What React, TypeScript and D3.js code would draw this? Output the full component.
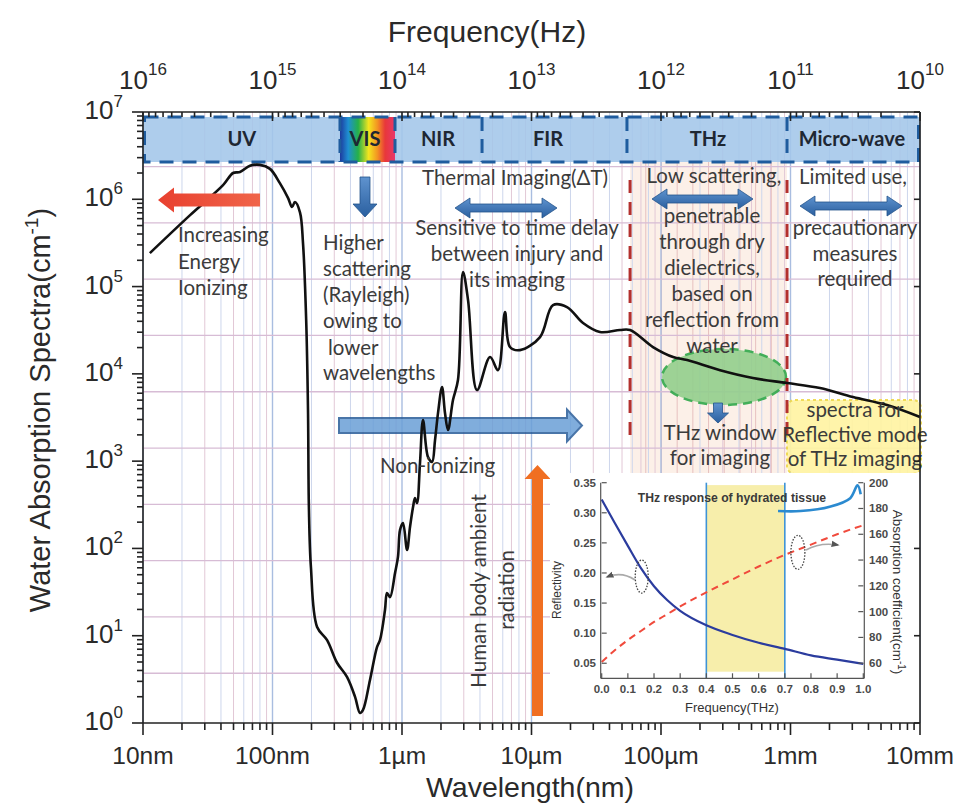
import React from "react";
import * as d3 from "d3";

// water absorption spectrum (wavelength in nm, absorption in cm^-1)
const wavelengthNm = [11.3, 23.1, 41.5, 49.6, 56.1, 67, 80, 95.6, 114, 132, 141.5, 149, 163, 172, 182, 188, 191, 198, 221, 264, 315, 376, 434, 474, 500, 566, 641, 676, 739, 766, 808, 883, 931, 966, 1018, 1094, 1153, 1217, 1260, 1306, 1377, 1453, 1588, 1706, 1799, 1897, 2037, 2148, 2266, 2476, 2705, 2959, 3236, 3795, 4786, 5510, 6240, 6820, 8150, 11640, 14660, 18800, 25000, 33800, 48200, 57700, 86700, 124000, 159000, 286000, 513000, 940000, 1690000, 3040000, 5560000, 1e7];
const absorption = [2.42e5, 6.59e5, 1.45e6, 2.0e6, 2.05e6, 2.42e6, 2.48e6, 2.23e6, 1.53e6, 1.03e6, 8.15e5, 9.3e5, 7.1e5, 3.15e5, 4.13e4, 3850, 298, 61, 12.6, 8.9, 4.9, 3.37, 1.99, 1.3, 1.41, 3.11, 7.4, 8.9, 19.7, 30.8, 27.7, 52, 80, 163, 195, 96, 176, 298, 378, 331, 951, 2960, 1114, 977, 1745, 3556, 7060, 3556, 2270, 5010, 8490, 1.47e5, 7.0e4, 6520, 1.56e4, 1.1e4, 5.1e4, 2.03e4, 1.87e4, 2.64e4, 6.14e4, 5.82e4, 3.82e4, 3.01e4, 3.18e4, 3.18e4, 2.03e4, 1.56e4, 1.44e4, 1.1e4, 8950, 7850, 6870, 5420, 4390, 3200];

// axis ticks
const wavelengthTicks = [10, 100, 1e3, 1e4, 1e5, 1e6, 1e7];
const wavelengthLabels = ["10nm", "100nm", "1µm", "10µm", "100µm", "1mm", "10mm"];
const freqTicks = [1e16, 1e15, 1e14, 1e13, 1e12, 1e11, 1e10];
const freqExponents = ["16", "15", "14", "13", "12", "11", "10"];
const absTicks = [1, 10, 100, 1e3, 1e4, 1e5, 1e6, 1e7];
const absExponents = ["0", "1", "2", "3", "4", "5", "6", "7"];

// spectral bands along the top
const bandNames = ["UV", "VIS", "NIR", "FIR", "THz", "Micro-wave"];
const bandEdges = [10, 332, 883, 4150, 54600, 940000, 1e7];
const bandLabelAt = [58, 518, 1897, 13400, 230700, 2.98e6];
const thzWindowEdges = [57700, 940000];

// inset: THz response of hydrated tissue
const thzFreq = [0, 0.05, 0.1, 0.15, 0.2, 0.25, 0.3, 0.4, 0.5, 0.6, 0.7, 0.8, 0.9, 1.0];
const reflectivity = [0.322, 0.283, 0.245, 0.208, 0.178, 0.155, 0.137, 0.113, 0.097, 0.084, 0.074, 0.063, 0.056, 0.049];
const absCoef = [61, 70, 78, 85, 92, 98, 104, 115, 125, 135, 144, 152, 160, 167];
const insetFreqTicks = [0, 0.1, 0.2, 0.3, 0.4, 0.5, 0.6, 0.7, 0.8, 0.9, 1.0];
const insetReflTicks = [0.05, 0.1, 0.15, 0.2, 0.25, 0.3, 0.35];
const insetAbsTicks = [60, 80, 100, 120, 140, 160, 180, 200];
const windowBand = [0.4, 0.7];
const hookF = [0.674, 0.76, 0.875, 0.95, 0.978, 0.99];
const hookA = [178, 178, 181.5, 188, 198, 191];

const W = 963;
const H = 803;
const L = 143, R = 920, T = 112, B = 723;

const x = d3.scaleLog().domain([10, 1e7]).range([L, R]);
const y = d3.scaleLog().domain([1, 1e7]).range([B, T]);
const xf = d3.scaleLog().domain([1e16, 1e10]).range([L, R]);

const fx = d3.scaleLinear().domain([0, 1]).range([601.7, 863.3]);
const ry = d3.scaleLinear().domain([0.025, 0.35]).range([678.3, 482.7]);
const ay = d3.scaleLinear().domain([48.3, 200]).range([678.3, 482.7]);

const TXT = "#3b3b3b";
const ANN = "Lato, 'Open Sans', sans-serif";
const ARIAL = "'Liberation Sans', Arial, sans-serif";

function hArrow(tail: number, tip: number, cy: number, shaft: number, head: number, len: number) {
  const b = tip > tail ? tip - len : tip + len;
  return `M${tail},${cy - shaft / 2}L${b},${cy - shaft / 2}L${b},${cy - head / 2}L${tip},${cy}L${b},${cy + head / 2}L${b},${cy + shaft / 2}L${tail},${cy + shaft / 2}Z`;
}
function dArrow(x1: number, x2: number, cy: number, shaft: number, head: number, len: number) {
  const a = x1 + len, b = x2 - len;
  return `M${x1},${cy}L${a},${cy - head / 2}L${a},${cy - shaft / 2}L${b},${cy - shaft / 2}L${b},${cy - head / 2}L${x2},${cy}L${b},${cy + head / 2}L${b},${cy + shaft / 2}L${a},${cy + shaft / 2}L${a},${cy + head / 2}Z`;
}
function vArrow(cx: number, tail: number, tip: number, shaft: number, head: number, len: number) {
  const b = tip > tail ? tip - len : tip + len;
  return `M${cx - shaft / 2},${tail}L${cx - shaft / 2},${b}L${cx - head / 2},${b}L${cx},${tip}L${cx + head / 2},${b}L${cx + shaft / 2},${b}L${cx + shaft / 2},${tail}Z`;
}

function Lines({ lines, x0, y0, dy, anchor = "middle" }: { lines: string[]; x0: number; y0: number; dy: number; anchor?: string }) {
  return (
    <text fontFamily={ANN} fontSize={20.5} fill={TXT} textAnchor={anchor}>
      {lines.map((s, i) => (
        <tspan key={i} x={x0} y={y0 + i * dy}>{s}</tspan>
      ))}
    </text>
  );
}

export default function App() {
  const pts = wavelengthNm.map((w, i) => [w, absorption[i]] as [number, number]);
  const curve = d3
    .line<[number, number]>()
    .x(d => x(d[0]))
    .y(d => y(d[1]))
    .curve(d3.curveCatmullRom.alpha(0.5))(pts);

  // minor log grid positions
  const minors: { v: number; m: number }[] = [];
  for (let e = 1; e < 7; e++) for (let m = 1; m <= 9; m++) minors.push({ v: m * Math.pow(10, e), m });
  minors.push({ v: 1e7, m: 1 });
  const hGrid = d3.range(0.57, 7, 0.645).map(v => Math.pow(10, v));
  const thzX0 = x(thzWindowEdges[0]);
  const thzX1 = x(thzWindowEdges[1]);
  const thzLines = d3.range(1, 10).map(i => thzX0 + ((thzX1 - thzX0) * i) / 10);

  const freqMinor: number[] = [];
  for (let e = 10; e < 16; e++) for (let m = 2; m <= 9; m++) freqMinor.push(m * Math.pow(10, e));
  const absMinor: number[] = [];
  for (let e = 0; e < 7; e++) for (let m = 2; m <= 9; m++) absMinor.push(m * Math.pow(10, e));

  const reflLine = d3.line<number>().x((d, i) => fx(thzFreq[i])).y(d => ry(d)).curve(d3.curveMonotoneX)(reflectivity);
  const absLine = d3.line<number>().x((d, i) => fx(thzFreq[i])).y(d => ay(d)).curve(d3.curveMonotoneX)(absCoef);
  const hookLine = d3.line<number>().x(d => fx(d)).y((d, i) => ay(hookA[i])).curve(d3.curveCatmullRom)(hookF);

  const bandTop = 117, bandBot = 162;

  return (
    <svg width={W} height={H} style={{ position: "absolute", left: 0, top: 0, background: "#fff" }}>
      <defs>
        <linearGradient id="vis" x1="0" x2="1" y1="0" y2="0">
          <stop offset="0" stopColor="#1d3a9e" />
          <stop offset="0.15" stopColor="#1f8fd2" />
          <stop offset="0.33" stopColor="#25b04a" />
          <stop offset="0.52" stopColor="#f3e51f" />
          <stop offset="0.68" stopColor="#f39422" />
          <stop offset="0.82" stopColor="#e8383a" />
          <stop offset="1" stopColor="#e8366a" />
        </linearGradient>
        <linearGradient id="blueArr" x1="0" x2="0" y1="0" y2="1">
          <stop offset="0" stopColor="#5f93cf" />
          <stop offset="1" stopColor="#2a5f9f" />
        </linearGradient>
        <linearGradient id="redArr" x1="0" x2="1" y1="0" y2="0">
          <stop offset="0" stopColor="#e8402f" />
          <stop offset="1" stopColor="#f0654a" />
        </linearGradient>
        <marker id="grayHead" viewBox="0 0 10 10" refX="8" refY="5" markerWidth="5" markerHeight="5" orient="auto">
          <path d="M0,1L10,5L0,9Z" fill="#555" />
        </marker>
      </defs>

      {/* THz window background */}
      <rect x={thzX0} y={bandBot} width={thzX1 - thzX0} height={473 - bandBot} fill="#fcf0e8" />
      {thzLines.map((px, i) => (
        <line key={"tl" + i} x1={px} x2={px} y1={bandBot} y2={473} stroke="#e7c0bf" strokeWidth={1} />
      ))}

      {/* grid */}
      {minors.map(({ v, m }, i) => (
        <line
          key={"vg" + i}
          x1={x(v)}
          x2={x(v)}
          y1={T}
          y2={B}
          stroke={m === 1 ? "#a9bde0" : m % 2 ? "#e2c8d6" : "#cdd6ec"}
          strokeWidth={m === 1 ? 1.4 : 1}
        />
      ))}
      {hGrid.map((v, i) => (
        <line key={"hg" + i} x1={L} x2={R} y1={y(v)} y2={y(v)} stroke="#d7bcd5" strokeWidth={1.3} />
      ))}

      {/* band strip */}
      <rect x={x(bandEdges[0])} y={bandTop} width={x(bandEdges[6]) - x(bandEdges[0])} height={bandBot - bandTop} fill="#a3c6e9" opacity={0.88} />
      <rect x={x(bandEdges[1])} y={bandTop} width={x(bandEdges[2]) - x(bandEdges[1])} height={bandBot - bandTop} fill="url(#vis)" />
      <rect
        x={x(bandEdges[0]) + 1.5}
        y={bandTop}
        width={x(bandEdges[6]) - x(bandEdges[0]) - 3}
        height={bandBot - bandTop}
        fill="none"
        stroke="#1f5c9e"
        strokeWidth={3}
        strokeDasharray="14,9"
      />
      {bandEdges.slice(1, 6).map((b, i) => (
        <line key={"bd" + i} x1={x(b)} x2={x(b)} y1={bandTop} y2={bandBot} stroke="#1f5c9e" strokeWidth={3} strokeDasharray="14,8" />
      ))}
      {bandNames.map((n, i) => (
        <text key={n} x={x(bandLabelAt[i])} y={146} textAnchor="middle" fontFamily={ANN} fontWeight="bold" fontSize={20} fill="#1e2733">
          {n}
        </text>
      ))}

      {/* highlighted regions */}
      <ellipse cx={724} cy={377} rx={62} ry={28} fill="#93cf8d" opacity={0.9} stroke="#2fa84a" strokeWidth={2.5} strokeDasharray="9,6" />
      <rect x={787} y={400} width={134} height={74} rx={8} fill="#fff4a3" opacity={0.92} stroke="#efd84a" strokeWidth={2} strokeDasharray="3,3" />
      {thzWindowEdges.map((w, i) => (
        <line key={"rd" + i} x1={x(w)} x2={x(w)} y1={180} y2={443} stroke="#b3302e" strokeWidth={3} strokeDasharray="13,9" />
      ))}

      {/* non-ionizing arrow */}
      <path d={hArrow(339, 582, 425.5, 15, 32, 15)} fill="#6a9fd7" stroke="#2a5d9a" strokeWidth={2} opacity={0.85} />

      {/* spectrum */}
      <path d={curve || ""} fill="none" stroke="#111" strokeWidth={2.6} strokeLinejoin="round" />

      {/* arrows */}
      <path d={hArrow(260, 158, 200, 13, 25, 16)} fill="url(#redArr)" />
      <path d={vArrow(365, 177, 217, 10, 24, 13)} fill="url(#blueArr)" stroke="#24548c" strokeWidth={0.8} />
      <path d={dArrow(455, 557, 208, 8, 20, 15)} fill="url(#blueArr)" stroke="#24548c" strokeWidth={0.8} />
      <path d={dArrow(652, 753, 199, 8, 20, 15)} fill="url(#blueArr)" stroke="#24548c" strokeWidth={0.8} />
      <path d={dArrow(800, 902, 206, 8, 20, 15)} fill="url(#blueArr)" stroke="#24548c" strokeWidth={0.8} />
      <path d={vArrow(718, 403, 423, 9, 21, 10)} fill="url(#blueArr)" stroke="#24548c" strokeWidth={0.8} />
      <path d={vArrow(537.5, 716, 465, 11, 26, 14)} fill="#f06f22" />

      {/* annotations */}
      <Lines lines={["Increasing", "Energy", "Ionizing"]} x0={178} y0={242} dy={26.5} anchor="start" />
      <Lines lines={["Higher", "scattering", "(Rayleigh)", "owing to"]} x0={323} y0={250} dy={26} anchor="start" />
      <Lines lines={["lower"]} x0={328} y0={355} dy={26} anchor="start" />
      <Lines lines={["wavelengths"]} x0={323} y0={380} dy={26} anchor="start" />
      <Lines lines={["Thermal Imaging(ΔT)"]} x0={515} y0={185} dy={26} />
      <Lines lines={["Sensitive to time delay", "between injury and", "its imaging"]} x0={517} y0={235} dy={26} />
      <Lines lines={["Low scattering,"]} x0={714} y0={183} dy={26} />
      <Lines lines={["penetrable", "through dry", "dielectrics,", "based on", "reflection from", "water"]} x0={712} y0={223} dy={26} />
      <Lines lines={["Limited use,"]} x0={853} y0={184} dy={26} />
      <Lines lines={["precautionary", "measures", "required"]} x0={855} y0={235} dy={25.5} />
      <Lines lines={["THz window", "for imaging"]} x0={720} y0={440} dy={25} />
      <Lines lines={["spectra for", "Reflective mode", "of THz imaging"]} x0={855} y0={417} dy={24.5} />
      <Lines lines={["Non-ionizing"]} x0={380} y0={473} dy={26} anchor="start" />
      <g transform="translate(486,591) rotate(-90)">
        <Lines lines={["Human body ambient"]} x0={0} y0={0} dy={26} />
      </g>
      <g transform="translate(514,590) rotate(-90)">
        <Lines lines={["radiation"]} x0={0} y0={0} dy={26} />
      </g>

      {/* inset */}
      <rect x={550} y={473} width={R - 550} height={B - 473} fill="#fff" />
      <rect
        x={fx(windowBand[0])}
        y={ry(0.346)}
        width={fx(windowBand[1]) - fx(windowBand[0])}
        height={ry(0.036) - ry(0.346)}
        fill="#f7eeab"
      />
      {windowBand.map((f, i) => (
        <line key={"wb" + i} x1={fx(f)} x2={fx(f)} y1={ry(0.35)} y2={ry(0.025)} stroke="#3f93d6" strokeWidth={1.6} />
      ))}
      <text x={732} y={502} textAnchor="middle" fontFamily={ARIAL} fontWeight="bold" fontSize={12.2} fill="#3a3a3a">
        THz response of hydrated tissue
      </text>
      <path d={absLine || ""} fill="none" stroke="#f04a3c" strokeWidth={2} strokeDasharray="7,5" />
      <path d={reflLine || ""} fill="none" stroke="#2b3c9e" strokeWidth={2.2} />
      <path d={hookLine || ""} fill="none" stroke="#2b8ad0" strokeWidth={2.6} />
      <ellipse cx={fx(0.153)} cy={ry(0.194)} rx={6.5} ry={16.5} fill="none" stroke="#444" strokeWidth={1.3} strokeDasharray="1.5,1.5" />
      <ellipse cx={fx(0.75)} cy={ay(146)} rx={7} ry={17} fill="none" stroke="#444" strokeWidth={1.3} strokeDasharray="1.5,1.5" />
      <path d="M635,580Q622,571 607,577" fill="none" stroke="#aaa" strokeWidth={1.6} markerEnd="url(#grayHead)" />
      <path d="M806,550Q820,542 838,545" fill="none" stroke="#aaa" strokeWidth={1.6} markerEnd="url(#grayHead)" />

      {/* inset axes */}
      <g stroke="#555" strokeWidth={1.2}>
        <line x1={fx(0) - 1} x2={fx(0) - 1} y1={ry(0.35)} y2={ry(0.025)} />
        <line x1={fx(1) + 1} x2={fx(1) + 1} y1={ry(0.35)} y2={ry(0.025)} />
        <line x1={fx(0) - 1} x2={fx(1) + 1} y1={ry(0.025)} y2={ry(0.025)} />
        {insetReflTicks.map(v => (
          <line key={"rt" + v} x1={fx(0)} x2={fx(0) + 5} y1={ry(v)} y2={ry(v)} />
        ))}
        {insetAbsTicks.map(v => (
          <line key={"at" + v} x1={fx(1) - 5} x2={fx(1)} y1={ay(v)} y2={ay(v)} />
        ))}
        {insetFreqTicks.map(v => (
          <line key={"ft" + v} x1={fx(v)} x2={fx(v)} y1={ry(0.025) - 5} y2={ry(0.025)} />
        ))}
      </g>
      <g fontFamily={ARIAL} fontWeight="bold" fontSize={11.5} fill="#4a4a4a">
        {insetReflTicks.map(v => (
          <text key={"rl" + v} x={596} y={ry(v) + 4} textAnchor="end">
            {d3.format(".2f")(v)}
          </text>
        ))}
        {insetAbsTicks.map(v => (
          <text key={"al" + v} x={869} y={ay(v) + 4}>
            {v}
          </text>
        ))}
        {insetFreqTicks.map(v => (
          <text key={"fl" + v} x={fx(v)} y={693} textAnchor="middle">
            {d3.format(".1f")(v)}
          </text>
        ))}
      </g>
      <text x={732} y={712} textAnchor="middle" fontFamily={ARIAL} fontSize={13} fill="#333">
        Frequency(THz)
      </text>
      <text transform="translate(561,590) rotate(-90)" textAnchor="middle" fontFamily={ARIAL} fontSize={12} fill="#333">
        Reflectivity
      </text>
      <text transform="translate(893,592) rotate(90)" textAnchor="middle" fontFamily={ARIAL} fontSize={13.5} fill="#333">
        Absorption coefficient(cm
        <tspan dy={-5} fontSize={10}>-1</tspan>
        <tspan dy={5}>)</tspan>
      </text>

      {/* main axes */}
      <g stroke="#222" strokeWidth={1.6} fill="none">
        <line x1={L} x2={L} y1={T} y2={B} />
        <line x1={R} x2={R} y1={T} y2={B} />
        <line x1={L} x2={R} y1={T} y2={T} />
        <line x1={L} x2={R} y1={B} y2={B} />
        {wavelengthTicks.map(v => (
          <line key={"bt" + v} x1={x(v)} x2={x(v)} y1={B} y2={B + 12} />
        ))}
        {minors.filter(d => d.m > 1).map(d => (
          <line key={"bm" + d.v} x1={x(d.v)} x2={x(d.v)} y1={B} y2={B + 7} />
        ))}
        {freqTicks.map(v => (
          <line key={"tt" + v} x1={xf(v)} x2={xf(v)} y1={T} y2={T + 9} />
        ))}
        {freqMinor.map(v => (
          <line key={"tm" + v} x1={xf(v)} x2={xf(v)} y1={T} y2={T + 5} />
        ))}
        {absTicks.map(v => (
          <line key={"lt" + v} x1={L - 11} x2={L} y1={y(v)} y2={y(v)} />
        ))}
        {absMinor.map(v => (
          <line key={"lm" + v} x1={L - 6} x2={L} y1={y(v)} y2={y(v)} />
        ))}
        {absTicks.map(v => (
          <line key={"rt" + v} x1={R - 6} x2={R} y1={y(v)} y2={y(v)} />
        ))}
      </g>

      <g fontFamily={ARIAL} fill="#2a2a2a">
        {wavelengthTicks.map((v, i) => (
          <text key={"bl" + v} x={x(v)} y={764} textAnchor="middle" fontSize={24.5}>
            {wavelengthLabels[i]}
          </text>
        ))}
        {freqTicks.map((v, i) => (
          <text key={"fl" + v} x={xf(v)} y={89} textAnchor="middle" fontSize={26}>
            10<tspan dy={-14} fontSize={17}>{freqExponents[i]}</tspan>
          </text>
        ))}
        {absTicks.map((v, i) => (
          <text key={"yl" + v} x={123} y={y(v) + 7} textAnchor="end" fontSize={26}>
            10<tspan dy={-12} fontSize={17}>{absExponents[i]}</tspan>
          </text>
        ))}
        <text x={487} y={42} textAnchor="middle" fontSize={30}>
          Frequency(Hz)
        </text>
        <text x={530} y={797} textAnchor="middle" fontSize={28.5}>
          Wavelength(nm)
        </text>
        <text transform="translate(50,410) rotate(-90)" textAnchor="middle" fontSize={29}>
          Water Absorption Spectra(cm<tspan dy={-12} fontSize={19}>-1</tspan>
          <tspan dy={12}>)</tspan>
        </text>
      </g>
    </svg>
  );
}
